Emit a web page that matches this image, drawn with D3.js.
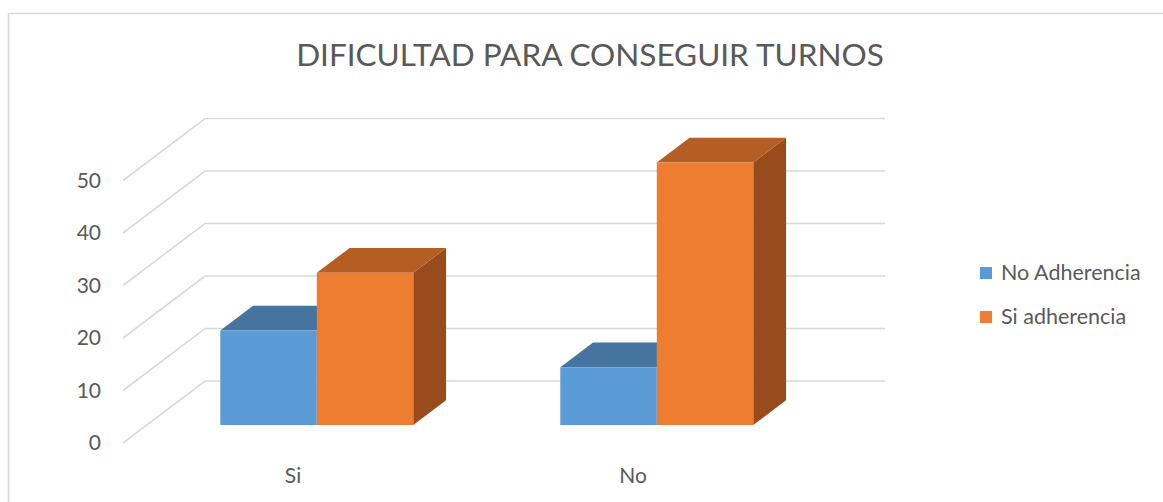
<!DOCTYPE html>
<meta charset="utf-8">
<style>
body { margin: 0; background: #fff; }
svg { font-family: Lato, 'Open Sans', sans-serif; }
text { fill: #595959; }
</style>
<svg width="1163" height="502"></svg>
<script src="https://d3js.org/d3.v7.min.js"></script>
<script>

var categories = ["Si", "No"];
var seriesNames = ["No Adherencia", "Si adherencia"];
var noAdherencia = [18, 11];
var siAdherencia = [29, 50];
var yTicks = [0, 10, 20, 30, 40, 50];
var colors = [
  {front: "#5b9bd5", top: "#44749f", side: "#3a6a94"},
  {front: "#ed7d31", top: "#b55e23", side: "#984c1d"}
];

var svg = d3.select("svg");

// chart border
svg.append("rect")
  .attr("x", 8.5).attr("y", 13.5)
  .attr("width", 1200).attr("height", 600)
  .attr("fill", "none")
  .attr("stroke", "#d9d9d9")
  .attr("stroke-width", 1.5);

// oblique depth offset (full depth of the floor)
var depthX = 82, depthY = 62;

var x = d3.scaleBand().domain(categories).range([123, 803]);
var xs = d3.scaleBand().domain(seriesNames).range([0, x.bandwidth()]).paddingOuter(0.762);
var y = d3.scaleLinear().domain([0, 50]).range([443, 180.5]);

function proj(px, v, z) {
  return [px + z * depthX, y(v) - z * depthY];
}

// gridlines: floor diagonal + back wall
var grid = svg.append("g")
  .attr("fill", "none")
  .attr("stroke", "#d9d9d9")
  .attr("stroke-width", 1.6);

grid.selectAll("path")
  .data(yTicks)
  .enter().append("path")
  .attr("d", function(d) {
    var a = proj(123, d, 0), b = proj(123, d, 1), c = proj(803, d, 1);
    return "M" + a + "L" + b + "L" + c;
  });

svg.append("g")
  .selectAll("text")
  .data(yTicks)
  .enter().append("text")
  .attr("x", 101)
  .attr("y", function(d) { return y(d); })
  .attr("dy", "0.35em")
  .attr("text-anchor", "end")
  .style("font-size", "21px")
  .text(function(d) { return d; });

// bars
var values = [noAdherencia, siAdherencia];
var z0 = 0.29, z1 = 0.69;
var bars = [];
categories.forEach(function(c, i) {
  seriesNames.forEach(function(s, j) {
    bars.push({cat: c, s: j, v: values[j][i]});
  });
});

function poly(pts) {
  return "M" + pts.join("L") + "Z";
}

var barG = svg.append("g")
  .selectAll("g")
  .data(bars)
  .enter().append("g");

barG.append("path")
  .attr("fill", function(d) { return colors[d.s].side; })
  .attr("d", function(d) {
    var xr = x(d.cat) + xs(seriesNames[d.s]) + xs.bandwidth();
    return poly([proj(xr, 0, z0), proj(xr, d.v, z0), proj(xr, d.v, z1), proj(xr, 0, z1)]);
  });

barG.append("path")
  .attr("fill", function(d) { return colors[d.s].top; })
  .attr("d", function(d) {
    var xl = x(d.cat) + xs(seriesNames[d.s]), xr = xl + xs.bandwidth();
    return poly([proj(xl, d.v, z0), proj(xr, d.v, z0), proj(xr, d.v, z1), proj(xl, d.v, z1)]);
  });

barG.append("path")
  .attr("fill", function(d) { return colors[d.s].front; })
  .attr("d", function(d) {
    var xl = x(d.cat) + xs(seriesNames[d.s]), xr = xl + xs.bandwidth();
    return poly([proj(xl, 0, z0), proj(xr, 0, z0), proj(xr, d.v, z0), proj(xl, d.v, z0)]);
  });

// category labels
svg.append("g")
  .selectAll("text")
  .data(categories)
  .enter().append("text")
  .attr("x", function(d) { return x(d) + x.bandwidth() / 2; })
  .attr("y", 483)
  .attr("text-anchor", "middle")
  .style("font-size", "21px")
  .text(function(d) { return d; });

// title
var title = svg.append("text")
  .attr("x", 590)
  .attr("y", 66)
  .attr("text-anchor", "middle")
  .style("font-size", "30px")
  .text("DIFICULTAD PARA CONSEGUIR TURNOS");
var tw = title.node().getComputedTextLength();
title.style("font-size", (30 * 587 / tw).toFixed(1) + "px");

// legend
var legend = svg.append("g")
  .selectAll("g")
  .data(seriesNames)
  .enter().append("g")
  .attr("transform", function(d, i) { return "translate(980," + (267 + i * 44) + ")"; });

legend.append("rect")
  .attr("width", 12).attr("height", 12)
  .attr("fill", function(d, i) { return colors[i].front; });

legend.append("text")
  .attr("x", 21)
  .attr("y", 13)
  .style("font-size", "21.5px")
  .text(function(d) { return d; });

</script>
